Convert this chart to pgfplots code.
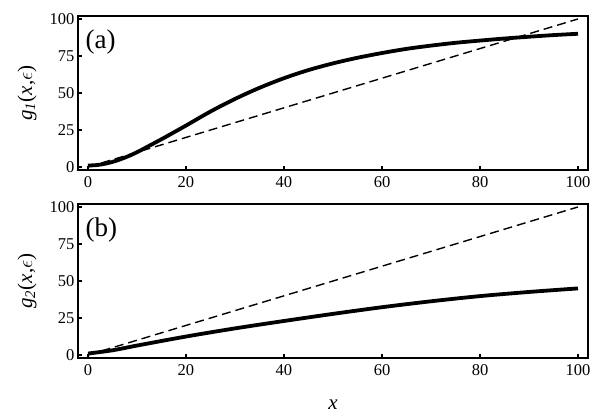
\documentclass[border=0pt]{standalone}
\usepackage{fontspec}
\setmainfont{Liberation Serif}
\usepackage{pgfplots}
\pgfplotsset{compat=1.18}

\pgfplotstableread{
x   g
0   1
2   1.4
4   2.6
6   4.5
8   7
10  10
12  13.5
14  17
16  20.6
18  24.3
20  28
25  37.5
30  46
35  53.5
40  60
45  65.5
50  70
55  73.8
60  77
65  79.8
70  82
75  83.9
80  85.4
85  86.8
90  88
95  89.1
100 90
}\gone

\pgfplotstableread{
x   g
0   1
5   3.2
10  6.4
20  12.5
30  18
40  23
50  27.8
60  32.3
70  36.3
80  39.8
90  42.6
100 45
}\gtwo

\pgfplotstableread{
x   g
0   0
100 100
}\diag

\pgfplotsset{
  panel/.style={scale only axis, width=510pt, height=154pt,
    xmin=-2.04, xmax=102.04, ymin=-2, ymax=102,
    xtick={0,20,...,100}, ytick={0,25,50,75,100},
    xtick pos=bottom, ytick pos=left, tick align=inside,
    major tick length=4pt, axis line style={line width=1.4pt},
    every tick/.style={black, line width=1.2pt},
    /pgf/number format/assume math mode=true,
    tick label style={font=\fontsize{16.5}{18}\selectfont},
    xticklabel style={yshift=-3pt},
    ylabel style={at={(axis description cs:-0.1,0.5)}, anchor=center, rotate=0,
      font=\fontsize{21}{23}\selectfont},
    clip=false},
  curve/.style={black, line width=3.8pt},
  ref/.style={black, line width=1.4pt, dash pattern=on 9pt off 5pt},
}

\begin{document}
\begin{tikzpicture}
\path[use as bounding box] (-78pt,16pt) rectangle (525pt,-404pt);
\begin{axis}[panel, at={(0pt,0pt)}, anchor=north west,
  ylabel={\textit{g}\textsubscript{\textit{1}}(\textit{x},$\epsilon$)}]
\addplot[ref] table[x=x, y=g] {\diag};
\addplot[curve, smooth] table[x=x, y=g] {\gone};
\node[anchor=west, font=\fontsize{27}{29}\selectfont] at (rel axis cs:0.008,0.83) {(a)};
\end{axis}
\begin{axis}[panel, at={(0pt,-188pt)}, anchor=north west,
  ylabel={\textit{g}\textsubscript{\textit{2}}(\textit{x},$\epsilon$)},
  xlabel={\textit{x}},
  xlabel style={at={(axis description cs:0.5,-0.305)}, anchor=center, font=\fontsize{21}{23}\selectfont}]
\addplot[ref] table[x=x, y=g] {\diag};
\addplot[curve, smooth] table[x=x, y=g] {\gtwo};
\node[anchor=west, font=\fontsize{27}{29}\selectfont] at (rel axis cs:0.008,0.83) {(b)};
\end{axis}
\end{tikzpicture}
\end{document}
